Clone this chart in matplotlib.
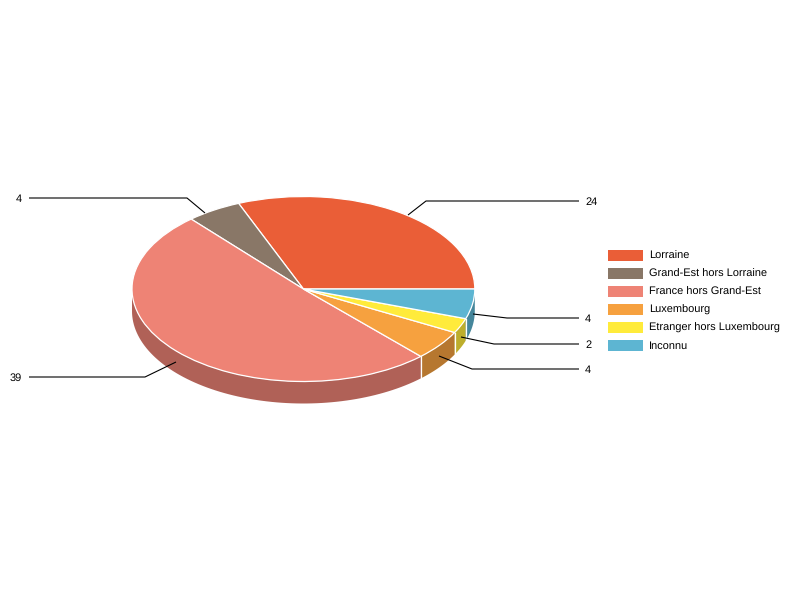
import numpy as np
import matplotlib
matplotlib.use("Agg")
import matplotlib.pyplot as plt
from matplotlib.colors import to_rgb
from matplotlib.patches import Polygon, Rectangle

plt.rcParams["font.family"] = ["Liberation Sans", "DejaVu Sans"]
plt.rcParams["text.hinting"] = "none"
plt.rcParams["text.hinting_factor"] = 1

labels = ["Lorraine", "Grand-Est hors Lorraine", "France hors Grand-Est",
          "Luxembourg", "Etranger hors Luxembourg", "Inconnu"]
values = [24, 4, 39, 4, 2, 4]
colors = ["#EA5E37", "#897767", "#EE8375", "#F6A13F", "#FFEB3B", "#5DB5D2"]

# geometrie du camembert en pixels
CX, CY = 303.4, 289
RX, RY = 171.4, 92.5
DEPTH = 22 / RY
FS = 7.92


def xp(px):
    return (px - CX) / RX


def yp(py):
    return (CY - py) / RY


fig = plt.figure(figsize=(8, 6), dpi=100, facecolor="white")
ax = fig.add_axes([0, 0, 1, 1])

# tranches du dessus
wedges, _ = ax.pie(values, colors=colors, startangle=0, counterclock=True,
                   wedgeprops=dict(edgecolor="white", linewidth=0.9, zorder=3))
ax.set_aspect("auto")
ax.set_xlim(xp(0), xp(800))
ax.set_ylim(yp(600), yp(0))
ax.axis("off")

# parois visibles (partie avant, de 180 a 360 degres)
bounds = np.cumsum([0] + values) / sum(values) * 360
for i, col in enumerate(colors):
    a0, a1 = max(bounds[i], 180), min(bounds[i + 1], 360)
    if a1 <= a0:
        continue
    t = np.radians(np.linspace(a0, a1, 80))
    top = np.column_stack([np.cos(t), np.sin(t)])
    bottom = (top - [0, DEPTH])[::-1]
    wall = [c * 0.74 for c in to_rgb(col)]
    ax.add_patch(Polygon(np.vstack([top, bottom]), closed=True, facecolor=wall,
                         edgecolor="none", zorder=2))
    # arete blanche entre deux parois (pas sur le bord gauche)
    if a0 > 180:
        ax.plot([np.cos(t[0])] * 2, [np.sin(t[0]), np.sin(t[0]) - DEPTH],
                color="white", lw=0.9, zorder=2.5)

# traits de rappel : depart, coude, fin (pixels)
leaders = [
    [(408, 215), (426, 201), (579, 201)],
    [(205, 213), (187, 198), (29, 198)],
    [(176, 362), (145, 377), (29, 377)],
    [(439, 356), (472, 369), (579, 369)],
    [(461, 337), (494, 344), (579, 344)],
    [(473, 314), (507, 318), (579, 318)],
]
for val, pts in zip(values, leaders):
    xs = [xp(p[0]) for p in pts]
    ys = [yp(p[1]) for p in pts]
    ax.plot(xs, ys, color="black", lw=0.8, zorder=5, solid_capstyle="butt")
    base = yp(pts[-1][1] + 4)
    if pts[-1][0] > pts[0][0]:
        ax.text(xp(585), base, str(val), ha="left", va="baseline",
                fontsize=FS, color="black", zorder=6)
    else:
        ax.text(xp(22), base, str(val), ha="right", va="baseline",
                fontsize=FS, color="black", zorder=6)

# legende
for i, (lab, col) in enumerate(zip(labels, colors)):
    y = 255 + 18 * i
    ax.add_patch(Rectangle((xp(608), yp(y + 5.5)), 35 / RX, 11 / RY,
                           facecolor=col, edgecolor="none", zorder=4))
    ax.text(xp(649), yp(y + 4), lab, ha="left", va="baseline",
            fontsize=FS, color="black", zorder=6)

fig.savefig("out.png", dpi=100, facecolor="white")
